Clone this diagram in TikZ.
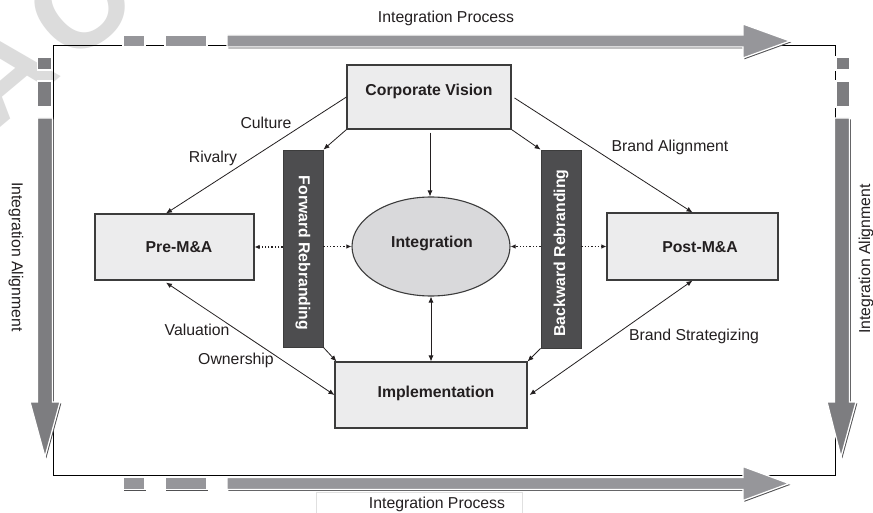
\documentclass[tikz,border=0pt]{standalone}
\usepackage{fontspec}
\setmainfont{Liberation Sans}
\usetikzlibrary{shapes.geometric,arrows.meta,calc,shadows}

\definecolor{ink}{HTML}{231F20}
\definecolor{boxfill}{HTML}{ECECED}
\definecolor{ovalfill}{HTML}{D9D9DB}
\definecolor{boxline}{HTML}{3C3C3C}
\definecolor{rebrand}{HTML}{4D4D4F}
\definecolor{barH}{HTML}{96969A}
\definecolor{barV}{HTML}{7D7D80}
\definecolor{barshade}{HTML}{505052}
\definecolor{mark}{HTML}{DCDCDC}

\tikzset{
  lbl/.style={text=ink, font=\fontsize{15.8}{18}\selectfont, inner sep=0pt},
  blbl/.style={lbl, font=\fontsize{15.8}{18}\selectfont\bfseries},
  stage/.style={draw=boxline, fill=boxfill, line width=1.1pt, inner sep=0pt, rectangle},
  oval/.style={draw=boxline, fill=ovalfill, line width=1.1pt, ellipse, inner sep=0pt},
  rebrandbar/.style={fill=rebrand, draw=boxline, line width=0.8pt, inner sep=0pt,
    text=white, font=\fontsize{15.8}{18}\selectfont\bfseries},
  link/.style={draw=ink, line width=0.8pt, -{Latex[length=6pt,width=5pt]}},
  twoway/.style={link, {Latex[length=6pt,width=5pt]}-{Latex[length=6pt,width=5pt]}},
  dotlink/.style={draw=ink, line width=1.3pt, dotted, -{Latex[length=5pt,width=4.5pt]}},
  barpiece/.style={draw=white, line width=1.3pt, line join=miter,
    general shadow={shadow xshift=1.3pt, shadow yshift=-1.3pt, fill=barshade}},
  hbar/.style={barpiece, fill=barH},
  vbar/.style={barpiece, fill=barV},
}

\begin{document}
\begin{tikzpicture}[x=1pt,y=-1pt]
\useasboundingbox (0,0) rectangle (873,513);
\fill[white] (0,0) rectangle (873,513);

% faint stamp lettering in the top-left corner
\begin{scope}
\clip (0,0) rectangle (873,513);
\node[text=mark, font=\fontsize{125}{125}\selectfont\bfseries, rotate=40, inner sep=0pt] (stamp) at (40,38) {A\hspace{10pt}C};
\end{scope}

% outer frame
\draw[black, line width=1pt] (53,46) rectangle (835,475);

% top process bar
\fill[hbar] (123,35) rectangle (145,47);
\fill[hbar] (165,35) rectangle (207,47);
\fill[hbar] (227,35) -- (743,35) -- (743,24) -- (790,41) -- (743,58) -- (743,47) -- (227,47) -- cycle;
% bottom process bar
\fill[hbar] (123,477.5) rectangle (145,489.5);
\fill[hbar] (165,477.5) rectangle (207,489.5);
\fill[hbar] (227,477.5) -- (743,477.5) -- (743,466.5) -- (789,483.5) -- (743,500.5) -- (743,489.5) -- (227,489.5) -- cycle;
% left alignment bar
\fill[vbar] (37.5,57) rectangle (52,70);
\fill[vbar] (37.5,81) rectangle (52,107);
\fill[vbar] (37.5,118) -- (37.5,402) -- (30,402) -- (45,457) -- (60,402) -- (52.5,402) -- (52.5,118) -- cycle;
% right alignment bar
\fill[vbar] (836,57) rectangle (850,70);
\fill[vbar] (836,81) rectangle (850,107);
\fill[vbar] (834.5,118) -- (834.5,402) -- (827,402) -- (841,457) -- (856,402) -- (849.5,402) -- (849.5,118) -- cycle;

% bar captions
\node[lbl] (topcap) at (446,18) {Integration Process};
\node[lbl, fill=white, draw=black!12, line width=0.6pt, minimum width=206pt, minimum height=24pt, anchor=north] (botbox) at (419,492) {};
\node[lbl] (botcap) at (437,504) {Integration Process};
\node[lbl, rotate=-90] (leftcap) at (16,257) {Integration Alignment};
\node[lbl, rotate=90] (rightcap) at (866,259) {Integration Alignment};

% stages
\node[stage, minimum width=164pt, minimum height=64pt] (cv) at (429,97) {};
\node[blbl] (cvtext) at (429,91) {Corporate Vision};
\node[stage, minimum width=159pt, minimum height=66pt] (pre) at (174.5,247) {};
\node[blbl] (pretext) at (179,247) {Pre-M\&A};
\node[stage, minimum width=171pt, minimum height=67pt] (post) at (692.5,246.5) {};
\node[blbl] (posttext) at (700,247) {Post-M\&A};
\node[stage, minimum width=192pt, minimum height=66pt] (impl) at (431,395) {};
\node[blbl] (impltext) at (436,393) {Implementation};
\node[oval, minimum width=158pt, minimum height=99pt] (integ) at (431,246.5) {};
\node[blbl] (integtext) at (432,243) {Integration};

% rebranding bars
\node[rebrandbar, minimum width=40pt, minimum height=197pt] (fr) at (303,248.5) {};
\node[text=white, font=\fontsize{15.8}{18}\selectfont\bfseries, rotate=-90, inner sep=0pt] (frtext) at (303,253) {Forward Rebranding};
\node[rebrandbar, minimum width=40pt, minimum height=198pt] (br) at (561,249) {};
\node[text=white, font=\fontsize{15.8}{18}\selectfont\bfseries, rotate=90, inner sep=0pt] (brtext) at (561,253) {Backward Rebranding};

% connectors
\coordinate (cvfoot) at ($(cv.south)+(1,3)$);
\draw[link] (cv.west) -- ($(pre.north)+(-8.5,0)$);
\draw[link] (cv.south west) -- (fr.north east);
\draw[link] (cvfoot) -- (cvfoot |- integ.north);
\draw[link] ($(cv.east)+(3,1)$) -- (post.north);
\draw[link] (cv.south east) -- (br.north west);
\draw[twoway] ($(pre.south)+(-8.5,2)$) -- (impl.west);
\draw[link] (fr.south east) -- ($(impl.north west)+(2,0)$);
\draw[twoway] (integ.south) -- (integ.south |- impl.north);
\draw[link] (br.south west) -- (impl.north east);
\draw[twoway] (post.south) -- ($(impl.east)+(2,0)$);

% dotted links across the rebranding bars
\draw[dotlink] (fr.west |- pre.east) -- (pre.east);
\draw[dotlink] (fr.east |- integ.west) -- (integ.west);
\draw[dotlink] (br.west |- integ.east) -- (integ.east);
\draw[dotlink] (br.east |- post.west) -- (post.west);

% link labels
\node[lbl] (culture) at (266,123) {Culture};
\node[lbl] (rivalry) at (213,158) {Rivalry};
\node[lbl] (brandalign) at (670,147) {Brand Alignment};
\node[lbl] (valuation) at (197,330) {Valuation};
\node[lbl] (ownership) at (236,360) {Ownership};
\node[lbl] (brandstrat) at (694,336) {Brand Strategizing};
\end{tikzpicture}
\end{document}
